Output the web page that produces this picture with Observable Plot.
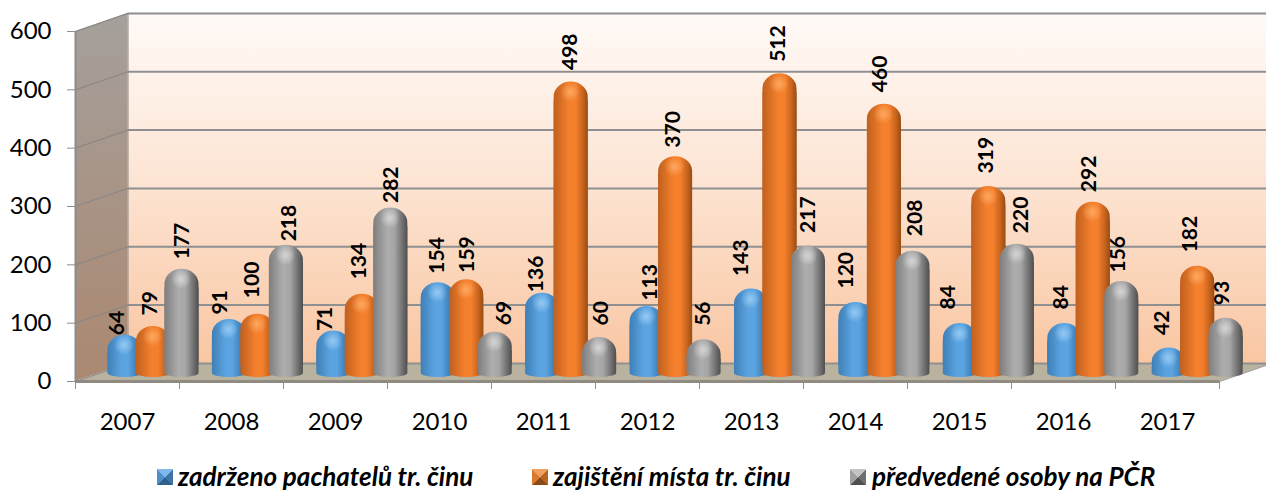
<!DOCTYPE html>
<html><head><meta charset="utf-8">
<script src="https://cdn.jsdelivr.net/npm/d3@7"></script>
<script src="https://cdn.jsdelivr.net/npm/@observablehq/plot@0.6"></script>
<style>
html,body{margin:0;padding:0;background:#fff;overflow:hidden}
#legend{position:relative;height:30px;font:italic bold 26px Lato,sans-serif;color:#000}
#legend span.t{position:absolute;top:3px;white-space:nowrap;line-height:26px}
#legend span.s{position:absolute;top:9px;width:16px;height:16px}
</style></head><body>
<div id="chart"></div><div id="legend"></div>
<script>
const years = [2007,2008,2009,2010,2011,2012,2013,2014,2015,2016,2017];
const zadrzeno = [64,91,71,154,136,113,143,120,84,84,42];
const zajisteni = [79,100,134,159,498,370,512,460,319,292,182];
const predvedene = [177,218,282,69,60,56,217,208,220,156,93];
const seriesNames = ["zadrženo pachatelů tr. činu","zajištění místa tr. činu","předvedené osoby na PČR"];
const yTicks = [0,100,200,300,400,500,600];

// the reference's data labels are hand-placed: gap above each bar and sideways shift, in pixels
const labelGap = [
  [0,5,0,9,1,6,13,14,14,14,13],
  [11,16,15,7,12,9,12,12,13,10,14],
  [10,4,5,7,12,14,13,15,11,9,13]
];
const labelShift = [
  [-8,-9,-9,-1,-6,3,-10,-10,-12,-3,-7],
  [-3,-6,-3,1,-1,-2,-2,-4,-3,-4,-7],
  [0,3,0,9,2,-1,0,2,4,-3,-4]
];

// depth of the fake 3D box, in scale units
const depthX = 0.505, depthY = 31;
const barBase = 7, planeLift = 15.4, barW = 0.327, step = 0.274, groupAt = 0.75, catStep = 1.004;
const pxX = 1/104, pxY = 600/350;
const k_ = v => () => v;

function row(vals, k){ return vals.map((v,i)=>({i, v, k, cx:i*catStep+groupAt+(k-1)*step,
  lx:i*catStep+groupAt+(k-1)*step+labelShift[k][i]*pxX, ly:v+planeLift+labelGap[k][i]*pxY})); }
const rows = [row(zadrzeno,0), row(zajisteni,1), row(predvedene,2)];
const pal = [
  {id:"b", hi:"#9fd0f5"}, {id:"o", hi:"#ffb06a"}, {id:"g", hi:"#dcdcdc"}
];
function hgrad(id, stops){
  return `<linearGradient id="${id}" x1="0" x2="1" y1="0" y2="0">`+stops.map(([o,c])=>`<stop offset="${o}" stop-color="${c}"/>`).join("")+`</linearGradient>`;
}
const defs = () => {
  const g = d3.create("svg:defs");
  g.html(
    `<linearGradient id="wall" x1="0" x2="0" y1="0" y2="1"><stop offset="0" stop-color="#fffaf7"/><stop offset="0.45" stop-color="#fde6d6"/><stop offset="1" stop-color="#f9c6a2"/></linearGradient>`+
    `<linearGradient id="side" x1="0" x2="0" y1="0" y2="1"><stop offset="0" stop-color="#a5a09c"/><stop offset="1" stop-color="#ab8870"/></linearGradient>`+
    hgrad("b",[[0,"#3f7fb6"],[0.4,"#5aa3e0"],[0.6,"#5ba4e2"],[1,"#2f6a9f"]])+
    hgrad("o",[[0,"#c0601f"],[0.45,"#f47f2c"],[0.65,"#f47f2c"],[0.85,"#c9651f"],[1,"#9a4c12"]])+
    hgrad("g",[[0,"#7e7e7e"],[0.42,"#adadad"],[0.62,"#a6a6a6"],[1,"#4f4f4f"]])+
    pal.map(p=>`<radialGradient id="${p.id}h"><stop offset="0" stop-color="${p.hi}" stop-opacity="0.85"/><stop offset="1" stop-color="${p.hi}" stop-opacity="0"/></radialGradient>`).join("")
  );
  return g.node();
};

const cylinders = rows.flatMap((r,k)=>{
  const f = `url(#${pal[k].id})`;
  return [
    Plot.rect(r,{x1:d=>d.cx-barW/2,x2:d=>d.cx+barW/2,y1:k_(barBase),y2:d=>d.v+planeLift,fill:f,rx:17,ry:15}),
    Plot.rect(r,{x1:d=>d.cx-barW/2,x2:d=>d.cx+barW/2,y1:k_(barBase),y2:d=>d.v+planeLift-26,fill:f,rx:17,ry:4}),
    Plot.dot(r,{x:"cx",y:d=>d.v+planeLift,dx:-1,dy:10,r:10,fill:`url(#${pal[k].id}h)`,stroke:"none"})
  ];
});
const labels = rows.map((r,k)=>Plot.text(r,{
  x:"lx",y:"ly",text:"v",rotate:-90,textAnchor:"start",lineAnchor:"middle",
  fontSize:21,fontWeight:700,fill:"#000"
}));

const chart = Plot.plot({
  width:1266,height:460,
  marginLeft:75,marginRight:47,marginTop:31,marginBottom:79,
  style:{fontFamily:"Lato,sans-serif",background:"transparent",color:"#000"},
  x:{type:"linear",domain:[0,11]},
  y:{type:"linear",domain:[0,600]},
  marks:[
    defs,
    Plot.rect([0],{x1:k_(depthX),x2:k_(11+depthX),y1:k_(depthY),y2:k_(600+depthY),fill:"url(#wall)"}),
    Plot.areaY([0,1],{x:d=>d*depthX,y1:d=>d*depthY,y2:d=>600+d*depthY,fill:"url(#side)"}),
    Plot.line([[0,0],[depthX,depthY],[11+depthX,depthY],[11,0],[0,0]],{x:d=>d[0],y:d=>d[1],fill:"#b9b29f",stroke:"none"}),
    Plot.ruleY(yTicks,{y:d=>d+depthY,x1:k_(depthX),x2:k_(11+depthX),stroke:"#8f8f8f",strokeWidth:2}),
    Plot.link(yTicks,{x1:k_(0),y1:d=>d,x2:k_(depthX),y2:d=>d+depthY,stroke:"#8c8886",strokeWidth:1.2}),
    Plot.ruleX([0],{y1:k_(0),y2:k_(600),stroke:"#8c8c8c",strokeWidth:2}),
    Plot.ruleX([depthX],{y1:k_(depthY),y2:k_(600+depthY),stroke:"#8f8a86",strokeWidth:1}),
    Plot.ruleY([0],{x1:k_(0),x2:k_(11),stroke:"#8f8b82",strokeWidth:3}),
    Plot.link([0],{x1:k_(11),y1:k_(0),x2:k_(11+depthX),y2:k_(depthY),stroke:"#a5a5a5",strokeWidth:1.2}),
    ...cylinders,
    ...labels,
    Plot.axisY({ticks:yTicks,tickSize:8,tickPadding:16,fontSize:24,stroke:"#8c8c8c",label:null}),
    Plot.axisX({ticks:d3.range(12),tickSize:8,tickFormat:()=>"",stroke:"#8c8c8c",label:null}),
    Plot.axisX({ticks:years.map((y,i)=>i+0.5),tickSize:0,tickPadding:31,fontSize:24,tickFormat:d=>String(years[d-0.5]),label:null})
  ]
});
document.getElementById("chart").appendChild(chart);

const legend = document.getElementById("legend");
const swatches = [["#7fb8ea","#4f8fc8","#2f5f8f","#3f74a8"],["#f0a060","#d87a30","#8a4a18","#b8651f"],["#c4c4c4","#a0a0a0","#4f4f4f","#707070"]];
[[157,178],[532,553],[850,872]].forEach(([sx,tx],i)=>{
  const s=document.createElement("span");s.className="s";s.style.left=sx+"px";
  const c=swatches[i];
  s.style.background=`conic-gradient(from -45deg,${c[0]} 0 25%,${c[3]} 25% 50%,${c[2]} 50% 75%,${c[1]} 75% 100%)`;
  legend.appendChild(s);
  const t=document.createElement("span");t.className="t";t.style.left=tx+"px";t.textContent=seriesNames[i];
  legend.appendChild(t);
});
</script></body></html>
